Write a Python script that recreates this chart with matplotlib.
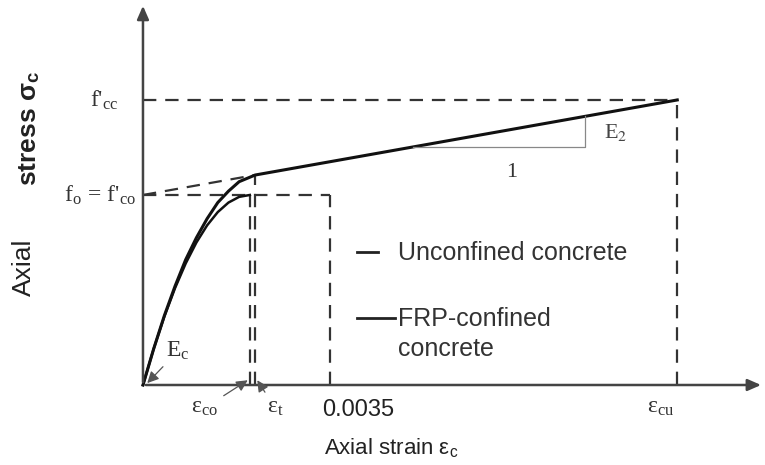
import matplotlib.pyplot as plt

plt.rcParams['font.family'] = ['Liberation Sans', 'DejaVu Sans']
plt.rcParams['mathtext.fontset'] = 'stix'

# key points (stress normalised by f'co, axial strain)
eps_co = 0.002
eps_t = 0.0021
eps_lim = 0.0035
eps_cu = 0.01
f_co = 1.0
f_t = 1.105
f_cc = 1.5

# FRP-confined concrete curve
frp_strain = [0, 0.0002, 0.0004, 0.0006, 0.0008, 0.0010, 0.0012, 0.0014, 0.0016, 0.0018, 0.0021, 0.01]
frp_stress = [0, 0.19, 0.365, 0.52, 0.66, 0.775, 0.875, 0.96, 1.02, 1.07, 1.105, 1.5]

# unconfined concrete curve
unc_strain = [0, 0.0002, 0.0004, 0.0006, 0.0008, 0.0010, 0.0012, 0.0014, 0.0016, 0.0018, 0.0020]
unc_stress = [0, 0.19, 0.36, 0.51, 0.64, 0.75, 0.84, 0.91, 0.96, 0.99, 1.0]

# slope triangle for E2
tri_x = [0.00506, 0.00827, 0.00827]
tri_y = [1.253, 1.253, 1.414]

fig = plt.figure(figsize=(7.65, 4.65), dpi=100)
ax = fig.add_axes([0, 0, 1, 1])
ax.set_xlim(-0.002676, 0.011642)
ax.set_ylim(-0.421, 2.026)
ax.axis('off')

dash = (0, (6, 4))
dcol = '#333333'
lw_d = 1.6

# axes with arrows
ax.annotate('', xy=(0.01162, 0), xytext=(0, 0),
            arrowprops=dict(arrowstyle='-|>,head_length=0.8,head_width=0.35', color='#444444', lw=1.8))
ax.annotate('', xy=(0, 2.01), xytext=(0, 0),
            arrowprops=dict(arrowstyle='-|>,head_length=0.8,head_width=0.35', color='#444444', lw=1.8))

# dashed guide lines
ax.plot([0, eps_cu], [f_cc, f_cc], ls=dash, color=dcol, lw=lw_d)
ax.plot([eps_cu, eps_cu], [0, f_cc], ls=dash, color=dcol, lw=lw_d)
ax.plot([0, eps_lim], [f_co, f_co], ls=dash, color=dcol, lw=lw_d)
ax.plot([eps_lim, eps_lim], [0, f_co], ls=dash, color=dcol, lw=lw_d)
ax.plot([eps_co, eps_co], [0, f_co], ls=dash, color=dcol, lw=lw_d)
ax.plot([eps_t, eps_t], [0, f_t], ls=dash, color=dcol, lw=lw_d)
ax.plot([0, eps_t], [f_co, f_t], ls=dash, color=dcol, lw=lw_d)

# curves
ax.plot(unc_strain, unc_stress, color='#111111', lw=1.8)
ax.plot(frp_strain, frp_stress, color='#111111', lw=2.2)

# E2 triangle
ax.plot(tri_x, tri_y, color='#888888', lw=0.9)
ax.text(0.00885, 1.33, r'E$_2$', fontsize=16, family='Liberation Serif',
        color='#444444', ha='center', va='center')
ax.text(0.0069, 1.12, '1', fontsize=16, family='Liberation Serif',
        color='#333333', ha='center', va='center')

# y-axis value labels
ax.text(-0.00045, f_cc, r"f'$_{\mathregular{cc}}$", fontsize=17, family='Liberation Serif',
        color='#333333', ha='right', va='center')
ax.text(-0.00012, f_co, r"f$_{\mathregular{o}}$ = f'$_{\mathregular{co}}$", fontsize=17,
        family='Liberation Serif', color='#333333', ha='right', va='center')

# axis titles
ax.text(-0.00212, 1.35, r'stress σ$_{\mathregular{c}}$', fontsize=19, fontweight='bold',
        rotation=90, ha='center', va='center', color='#222222')
ax.text(-0.00222, 0.62, 'Axial', fontsize=19, rotation=90, ha='center', va='center',
        color='#222222')
ax.text(0.00465, -0.33, r'Axial strain ε$_{\mathregular{c}}$', fontsize=16,
        ha='center', va='center', color='#222222')

# x-axis value labels with arrows
ax.annotate(r'E$_{\mathregular{c}}$', xy=(0.00008, 0.01), xytext=(0.00066, 0.18),
            fontsize=17, family='Liberation Serif', color='#333333', ha='center', va='center',
            arrowprops=dict(arrowstyle='-|>,head_length=0.4,head_width=0.2', color='#555555',
                            lw=0.9, shrinkA=2, shrinkB=0))
ax.annotate(r'ε$_{\mathregular{co}}$', xy=(eps_co - 0.00004, 0.025), xytext=(0.00116, -0.12),
            fontsize=17, family='Liberation Serif', color='#333333', ha='center', va='center',
            arrowprops=dict(arrowstyle='-|>,head_length=0.4,head_width=0.2', color='#555555',
                            lw=0.9, shrinkA=2, shrinkB=0))
ax.annotate(r'ε$_{\mathregular{t}}$', xy=(eps_t + 0.00004, 0.025), xytext=(0.00247, -0.12),
            fontsize=17, family='Liberation Serif', color='#333333', ha='center', va='center',
            arrowprops=dict(arrowstyle='-|>,head_length=0.4,head_width=0.2', color='#555555',
                            lw=0.9, shrinkA=2, shrinkB=0))
ax.text(0.00335, -0.13, '0.0035', fontsize=17, ha='left', va='center', color='#222222')
ax.text(eps_cu - 0.0003, -0.12, r'ε$_{\mathregular{cu}}$', fontsize=17,
        family='Liberation Serif', color='#333333', ha='center', va='center')

# legend drawn by hand
ax.plot([0.0040, 0.0044], [0.70, 0.70], color='#222222', lw=2.0)
ax.text(0.00477, 0.695, 'Unconfined concrete', fontsize=18, ha='left', va='center',
        color='#333333')
ax.plot([0.0040, 0.00472], [0.35, 0.35], color='#222222', lw=2.0)
ax.text(0.00477, 0.345, 'FRP-confined', fontsize=18, ha='left', va='center', color='#333333')
ax.text(0.00477, 0.19, 'concrete', fontsize=18, ha='left', va='center', color='#333333')

fig.savefig('out.png', dpi=100)
